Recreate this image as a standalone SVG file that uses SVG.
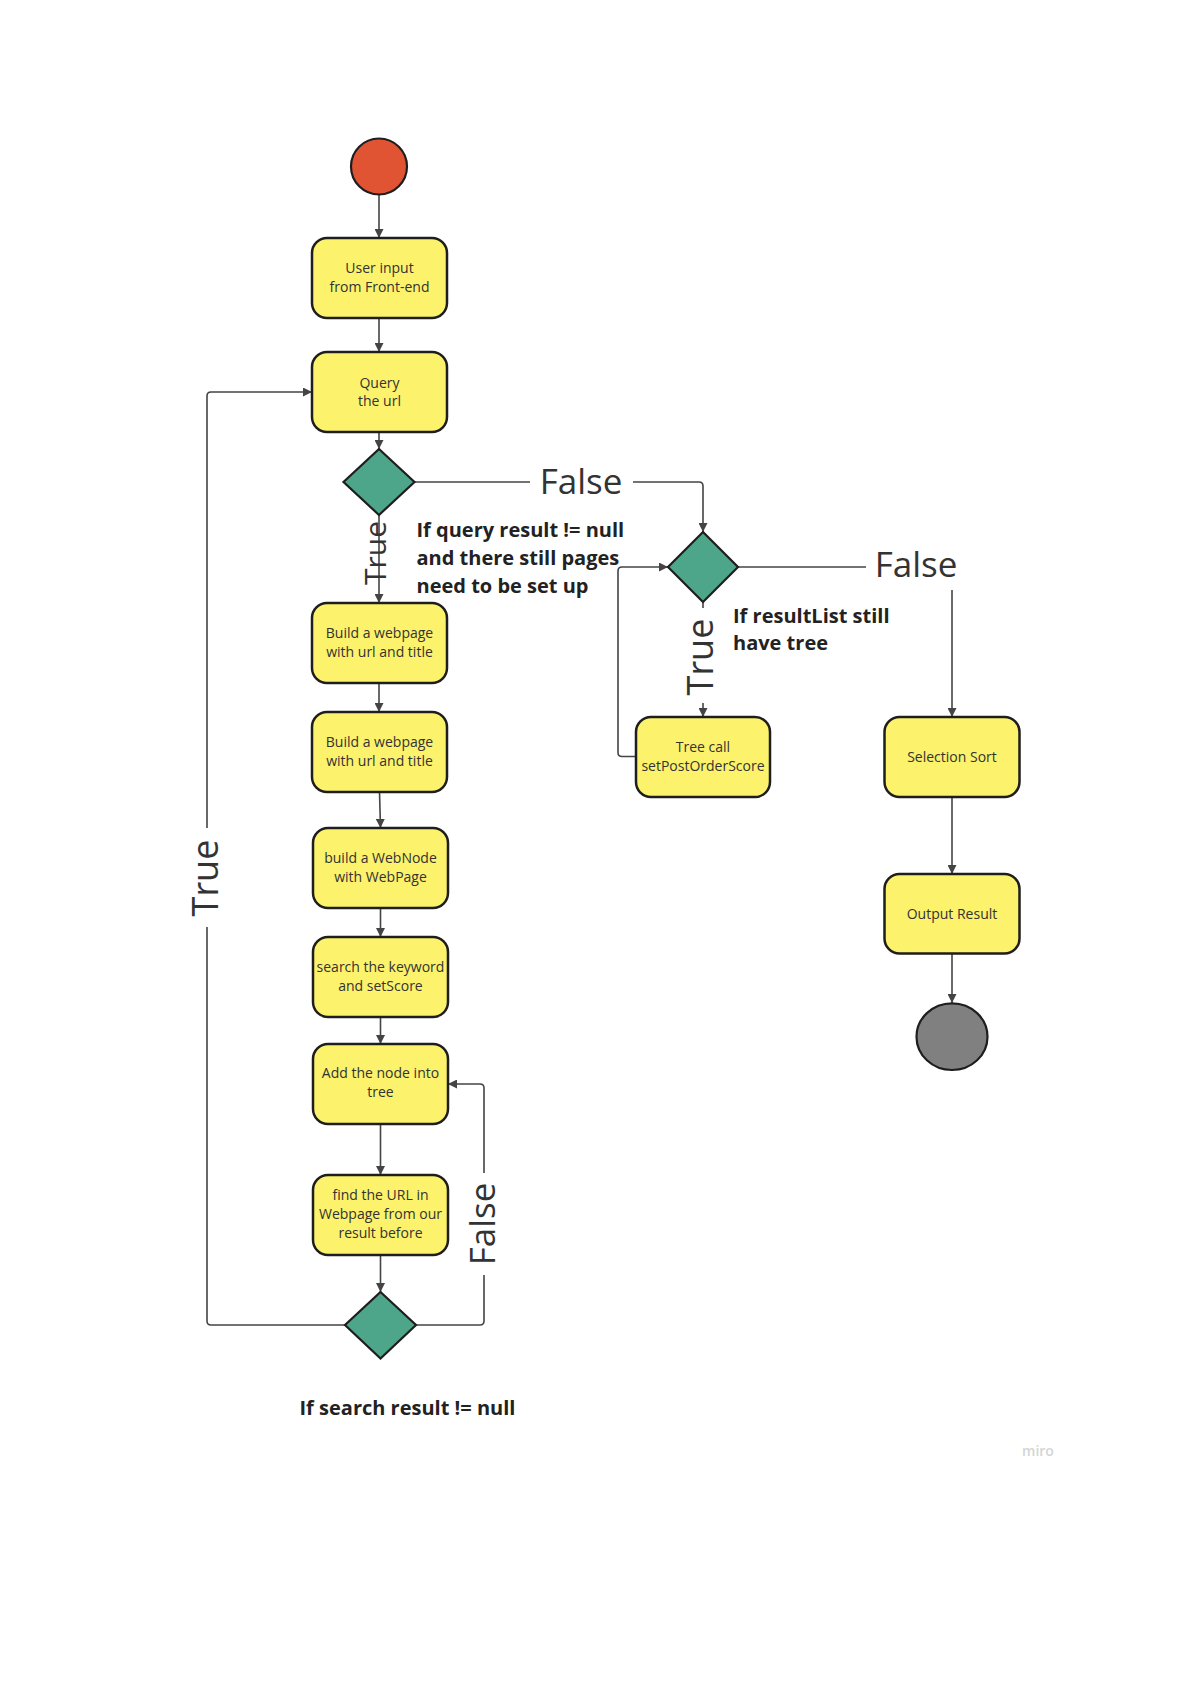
<svg xmlns="http://www.w3.org/2000/svg" width="1190" height="1683" viewBox="0 0 1190 1683">
<defs>
<marker id="arr" viewBox="0 0 10 10" refX="10" refY="5" markerWidth="9" markerHeight="9" markerUnits="userSpaceOnUse" orient="auto">
<path d="M0,0 L10,5 L0,10 z" fill="#444"/>
</marker>
<style>
.box{fill:#fcf26b;stroke:#1e1e1e;stroke-width:2.5}
.dia{fill:#4da58a;stroke:#1e1e1e;stroke-width:2.2}
.t{font-family:"Open Sans","Noto Sans","DejaVu Sans",sans-serif;font-size:14px;fill:#333;text-anchor:middle}
.c{fill:none;stroke:#444;stroke-width:1.6}
.a{marker-end:url(#arr)}
.lbl{font-family:"Open Sans","Noto Sans","DejaVu Sans",sans-serif;font-size:35px;fill:#333;text-anchor:middle}
.cond{font-family:"Open Sans","Noto Sans","DejaVu Sans",sans-serif;font-size:20px;font-weight:bold;fill:#222}
</style>
</defs>
<rect width="1190" height="1683" fill="#fff"/>

<g id="connectors">
<path class="c a" d="M379,194.5 V238"/>
<path class="c a" d="M379,318 V352"/>
<path class="c a" d="M379,432 V449"/>
<path class="c a" d="M379,515 V603"/>
<path class="c a" d="M379,683 V712"/>
<path class="c a" d="M379.5,792 L380.5,828"/>
<path class="c a" d="M380.5,908 V937"/>
<path class="c a" d="M380.5,1017 V1044"/>
<path class="c a" d="M380.5,1124 V1175"/>
<path class="c a" d="M380.5,1255 V1292"/>
<path class="c" d="M345,1325 H211 Q207,1325 207,1321 V927"/>
<path class="c a" d="M207,828 V396 Q207,392 211,392 H312"/>
<path class="c" d="M416,1325 H480 Q484,1325 484,1321 V1275"/>
<path class="c a" d="M484,1173 V1088 Q484,1084 480,1084 H448"/>
<path class="c" d="M415,482 H530"/>
<path class="c a" d="M633,482 H699 Q703,482 703,486 V532"/>
<path class="c" d="M703,602 V608"/>
<path class="c a" d="M703,703 V717"/>
<path class="c a" d="M636,756.5 H622 Q618,756.5 618,752.5 V571 Q618,567 622,567 H668"/>
<path class="c" d="M738,567 H866"/>
<path class="c a" d="M952,590 V717"/>
<path class="c a" d="M952,797 V874"/>
<path class="c a" d="M952,953.5 V1003"/>
<text class="lbl" style="font-size:30px" transform="translate(386,553) rotate(-90)">True</text>
<text class="lbl" style="font-size:36px" transform="translate(218,878) rotate(-90)">True</text>
<text class="lbl" style="font-size:36px" transform="translate(713,657) rotate(-90)">True</text>
<text class="lbl" transform="translate(495,1224) rotate(-90)">False</text>
<text class="lbl" x="581" y="494">False</text>
<text class="lbl" x="916" y="577">False</text>
</g>

<g id="start"><circle cx="379" cy="166.5" r="28" fill="#e05434" stroke="#1e1e1e" stroke-width="2.2"/></g>

<g id="user-input"><rect class="box" x="312" y="238" width="135" height="80" rx="15"/>
<text class="t" x="379.5" y="273">User input</text><text class="t" x="379.5" y="292">from Front-end</text></g>

<g id="query"><rect class="box" x="312" y="352" width="135" height="80" rx="15"/>
<text class="t" x="379.5" y="388">Query</text><text class="t" x="379.5" y="406">the url</text></g>

<g id="decision1"><polygon class="dia" points="379,449 414.5,482 379,515 343.5,482"/></g>
<g id="cond1-text"><text class="cond" x="416.5" y="537">If query result != null</text>
<text class="cond" x="416.5" y="565">and there still pages</text>
<text class="cond" x="416.5" y="593">need to be set up</text></g>

<g id="build1"><rect class="box" x="312" y="603" width="135" height="80" rx="15"/>
<text class="t" x="379.5" y="638">Build a webpage</text><text class="t" x="379.5" y="657">with url and title</text></g>

<g id="build2"><rect class="box" x="312" y="712" width="135" height="80" rx="15"/>
<text class="t" x="379.5" y="747">Build a webpage</text><text class="t" x="379.5" y="766">with url and title</text></g>

<g id="webnode"><rect class="box" x="313" y="828" width="135" height="80" rx="15"/>
<text class="t" x="380.5" y="863">build a WebNode</text><text class="t" x="380.5" y="882">with WebPage</text></g>

<g id="search"><rect class="box" x="313" y="937" width="135" height="80" rx="15"/>
<text class="t" x="380.5" y="972">search the keyword</text><text class="t" x="380.5" y="991">and setScore</text></g>

<g id="add-node"><rect class="box" x="313" y="1044" width="135" height="80" rx="15"/>
<text class="t" x="380.5" y="1078">Add the node into</text><text class="t" x="380.5" y="1097">tree</text></g>

<g id="find-url"><rect class="box" x="313" y="1175" width="135" height="80" rx="15"/>
<text class="t" x="380.5" y="1200">find the URL in</text><text class="t" x="380.5" y="1219">Webpage from our</text><text class="t" x="380.5" y="1238">result before</text></g>

<g id="decision3"><polygon class="dia" points="380.5,1292 416,1325 380.5,1358.5 345,1325"/></g>
<g id="cond3-text"><text class="cond" x="299.5" y="1415">If search result != null</text></g>

<g id="decision2"><polygon class="dia" points="703,532 738,567 703,602 668,567"/></g>
<g id="cond2-text"><text class="cond" x="733" y="623">If resultList still</text>
<text class="cond" x="733" y="650">have tree</text></g>

<g id="tree-call"><rect class="box" x="636" y="717" width="134" height="80" rx="15"/>
<text class="t" x="703" y="752">Tree call</text><text class="t" x="703" y="771">setPostOrderScore</text></g>

<g id="selection-sort"><rect class="box" x="884.5" y="717" width="135" height="80" rx="15"/>
<text class="t" x="952" y="762">Selection Sort</text></g>

<g id="output-result"><rect class="box" x="884.5" y="874" width="135" height="79.5" rx="15"/>
<text class="t" x="952" y="918.5">Output Result</text></g>

<g id="end"><ellipse cx="952" cy="1036.7" rx="35.5" ry="33.3" fill="#808080" stroke="#1e1e1e" stroke-width="2.2"/></g>

<text x="1038" y="1456" font-family="'Open Sans','Noto Sans',sans-serif" font-size="14" font-weight="600" fill="#d4d4d4" text-anchor="middle">miro</text>
</svg>
